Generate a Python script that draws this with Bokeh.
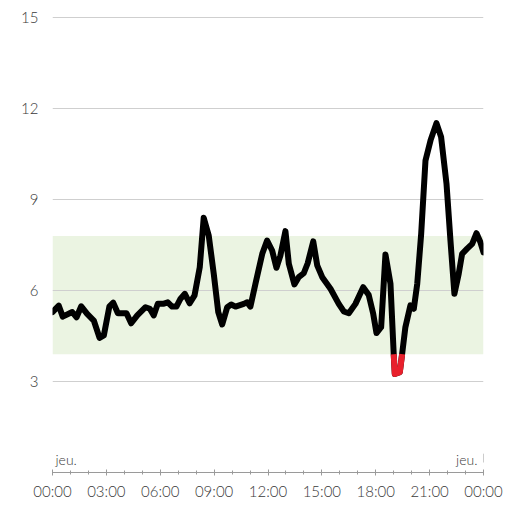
from bokeh.plotting import figure
from bokeh.models import FixedTicker, BoxAnnotation, Range1d
from bokeh.core.properties import value
from bokeh.embed import file_html
from bokeh.resources import INLINE

# ---- data (hours since midnight, glucose mmol/L) ----
times = [0.0, 0.35, 0.57, 1.10, 1.34, 1.60, 1.93, 2.30, 2.62, 2.86, 3.17, 3.38, 3.64,
         4.12, 4.38, 4.72, 5.18, 5.42, 5.64, 5.86, 6.16, 6.42, 6.66, 6.90, 7.13, 7.37,
         7.64, 7.91, 8.20, 8.42, 8.70, 8.98, 9.23, 9.45, 9.73, 9.95, 10.19, 10.65, 10.84,
         11.02, 11.30, 11.68, 11.95, 12.23, 12.47, 12.69, 12.97, 13.16, 13.47, 13.71,
         13.99, 14.21, 14.52, 14.74, 15.02, 15.48, 15.94, 16.22, 16.50, 16.87, 17.30,
         17.61, 17.86, 18.04, 18.30, 18.54, 18.82, 19.00, 19.06, 19.34, 19.47, 19.65,
         19.93, 20.12, 20.31, 20.53, 20.77, 21.05, 21.38, 21.64, 21.94, 22.16, 22.38,
         22.62, 22.81, 23.09, 23.37, 23.61, 23.83, 24.0]
glucose = [5.29, 5.5, 5.14, 5.29, 5.12, 5.48, 5.23, 5.01, 4.44, 4.52, 5.48, 5.6, 5.25,
           5.25, 4.92, 5.18, 5.45, 5.4, 5.18, 5.56, 5.56, 5.61, 5.47, 5.47, 5.73, 5.89,
           5.58, 5.84, 6.77, 8.4, 7.81, 6.55, 5.29, 4.88, 5.45, 5.54, 5.47, 5.56, 5.61,
           5.47, 6.22, 7.21, 7.65, 7.32, 6.75, 7.15, 7.96, 6.88, 6.2, 6.44,
           6.57, 6.9, 7.62, 6.83, 6.44, 6.06, 5.56, 5.31, 5.25, 5.56, 6.11,
           5.85, 5.23, 4.6, 4.79, 7.19, 6.22, 3.91, 3.25, 3.31, 3.91, 4.79,
           5.51, 5.40, 6.22, 7.87, 10.29, 10.95, 11.52, 11.06, 9.52, 7.65, 5.89,
           6.55, 7.21, 7.38, 7.54, 7.89, 7.59, 7.26]
target_low = 3.9
target_high = 7.8
y_ticks = [3, 6, 9, 12, 15]
x_ticks = [0, 3, 6, 9, 12, 15, 18, 21, 24]
x_tick_labels = ["00:00", "03:00", "06:00", "09:00", "12:00", "15:00", "18:00", "21:00", "00:00"]
x_minor = list(range(0, 25))
day_labels = ["jeu.", "jeu."]
day_label_pos = [0, 24]

FONT = "'Lato Light', Lato"
TXT = "#3a3a3a"

p = figure(width=503, height=504, output_backend="svg", toolbar_location=None,
           x_range=Range1d(0, 24), y_range=Range1d(0, 15.2),
           min_border_left=52, min_border_right=20, min_border_top=11, min_border_bottom=32)
p.outline_line_color = None
p.background_fill_color = "white"

# target band
p.add_layout(BoxAnnotation(bottom=target_low, top=target_high, fill_color="#ebf4e2",
                           fill_alpha=1.0, line_color=None, level="image"))

# grid
p.xgrid.visible = False
p.ygrid.ticker = FixedTicker(ticks=y_ticks)
p.ygrid.grid_line_color = "#cfcfcf"
p.ygrid.grid_line_width = 1

# y axis
p.yaxis.ticker = FixedTicker(ticks=y_ticks)
p.yaxis.axis_line_color = None
p.yaxis.major_tick_line_color = None
p.yaxis.minor_tick_line_color = None
p.yaxis.major_label_standoff = 8
p.yaxis.major_label_text_font = FONT
p.yaxis.major_label_text_font_size = "15px"
p.yaxis.major_label_text_color = TXT

# x axis
p.xaxis.ticker = FixedTicker(ticks=x_ticks, minor_ticks=x_minor)
p.xaxis.major_label_overrides = {t: l for t, l in zip(x_ticks, x_tick_labels)}
p.xaxis.axis_line_color = "#9a9a9a"
p.xaxis.major_tick_line_color = "#9a9a9a"
p.xaxis.minor_tick_line_color = "#9a9a9a"
p.xaxis.major_tick_in = 3
p.xaxis.major_tick_out = 3
p.xaxis.minor_tick_in = 2
p.xaxis.minor_tick_out = 2
p.xaxis.major_label_standoff = 6
p.xaxis.major_label_text_font = FONT
p.xaxis.major_label_text_font_size = "15px"
p.xaxis.major_label_text_color = TXT

# day labels
p.text(x=day_label_pos[:1], y=[0.42], text=day_labels[:1], text_font=value(FONT),
       text_font_size="14px", text_color=TXT, text_align="left", text_baseline="alphabetic",
       x_offset=3)
p.text(x=day_label_pos[1:], y=[0.42], text=day_labels[1:], text_font=value(FONT),
       text_font_size="14px", text_color=TXT, text_align="right", text_baseline="alphabetic",
       x_offset=-6)
p.segment(x0=day_label_pos[1:], x1=day_label_pos[1:], y0=[0.33], y1=[0.62],
          line_color="#9a9a9a", line_width=1)

# main line
p.line(times, glucose, line_color="black", line_width=6, line_join="round", line_cap="round")

# low segments (below target) in red
segs_x, segs_y = [], []
cur_x, cur_y = [], []
for i in range(len(times)):
    t, g = times[i], glucose[i]
    if i > 0:
        t0, g0 = times[i - 1], glucose[i - 1]
        if (g0 < target_low) != (g < target_low):
            tc = t0 + (target_low - g0) * (t - t0) / (g - g0)
            cur_x.append(tc); cur_y.append(target_low)
            if g >= target_low:
                segs_x.append(cur_x); segs_y.append(cur_y)
                cur_x, cur_y = [], []
    if g < target_low:
        cur_x.append(t); cur_y.append(g)
if cur_x:
    segs_x.append(cur_x); segs_y.append(cur_y)
if segs_x:
    p.multi_line(segs_x, segs_y, line_color="#e8202c", line_width=6, line_join="round")

open("out.html", "w").write(file_html(p, INLINE))
